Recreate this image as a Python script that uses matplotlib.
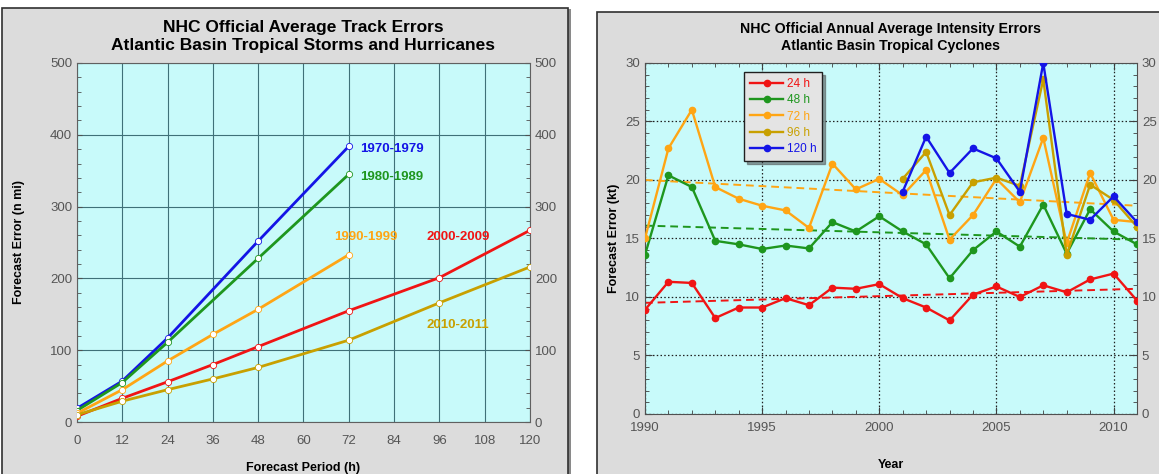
import matplotlib
matplotlib.use("Agg")
import matplotlib.pyplot as plt
from matplotlib.patches import Rectangle
from matplotlib.ticker import MultipleLocator

plt.rcParams['font.family'] = ['Liberation Sans', 'DejaVu Sans']

# ---- left chart data: track errors (n mi) by forecast period ----
periods_70s = [0, 12, 24, 48, 72]
err_70s = [19, 57, 117, 252, 384]
periods_80s = [0, 12, 24, 48, 72]
err_80s = [16, 55, 111, 228, 345]
periods_90s = [0, 12, 24, 36, 48, 72]
err_90s = [12, 45, 85, 122, 157, 233]
periods_00s = [0, 12, 24, 36, 48, 72, 96, 120]
err_00s = [8, 33, 56, 80, 105, 155, 201, 267]
periods_10s = [0, 12, 24, 36, 48, 72, 96, 120]
err_10s = [10, 29, 45, 60, 76, 114, 166, 216]
decade_labels = ['1970-1979', '1980-1989', '1990-1999', '2000-2009', '2010-2011']

# ---- right chart data: annual intensity errors (kt) ----
years = list(range(1990, 2012))
int_24 = [8.9, 11.3, 11.2, 8.2, 9.1, 9.1, 9.9, 9.3, 10.8, 10.7, 11.1,
          9.9, 9.1, 8.0, 10.2, 10.9, 10.0, 11.0, 10.4, 11.5, 12.0, 9.7]
int_48 = [13.6, 20.4, 19.4, 14.8, 14.5, 14.1, 14.4, 14.15, 16.4, 15.6, 16.9,
          15.6, 14.5, 11.6, 14.0, 15.6, 14.3, 17.9, 13.7, 17.5, 15.6, 14.5]
int_72 = [15.0, 22.7, 26.0, 19.4, 18.4, 17.8, 17.4, 15.9, 21.4, 19.2, 20.1,
          18.7, 20.85, 14.9, 17.0, 20.1, 18.1, 23.6, 14.6, 20.6, 16.6, 16.4]
years_late = list(range(2001, 2012))
int_96 = [20.1, 22.4, 17.0, 19.8, 20.2, 19.5, 28.6, 13.6, 19.6, 18.3, 16.0]
int_120 = [19.0, 23.7, 20.6, 22.7, 21.85, 19.0, 30.0, 17.1, 16.6, 18.6, 16.4]
trend_years = [1990, 2011]
trend_24 = [9.5, 10.7]
trend_48 = [16.1, 14.9]
trend_72 = [20.0, 17.8]

BLUE = '#1414e6'
GREEN = '#1e961e'
ORANGE = '#ffa514'
RED = '#f01414'
GOLD = '#c8a000'
TICKC = '#555555'

fig = plt.figure(figsize=(11.59, 4.74), dpi=100)
fig.patch.set_facecolor('white')

# panel backgrounds
fig.add_artist(Rectangle((0.004, -0.01), 0.489, 0.99, transform=fig.transFigure,
                         facecolor='#8a8a8a', edgecolor='none', zorder=0))
fig.add_artist(Rectangle((0.002, -0.01), 0.488, 0.993, transform=fig.transFigure,
                         facecolor='#dcdcdc', edgecolor='#303030', lw=1.2, zorder=0))
fig.add_artist(Rectangle((0.515, -0.01), 0.49, 0.985, transform=fig.transFigure,
                         facecolor='#dcdcdc', edgecolor='#303030', lw=1.2, zorder=0))

# ================= left chart =================
ax1 = fig.add_axes([0.0664, 0.1097, 0.3909, 0.7574])
ax1.set_facecolor('#c8fafa')
series = [(periods_70s, err_70s, BLUE), (periods_80s, err_80s, GREEN),
          (periods_90s, err_90s, ORANGE), (periods_00s, err_00s, RED),
          (periods_10s, err_10s, GOLD)]
for xs, ys, c in series:
    ax1.plot(xs, ys, color=c, lw=2.0, marker='o', ms=4.5, mfc='white',
             mec=c, mew=0.6, zorder=3)
ax1.set_xlim(0, 120)
ax1.set_ylim(0, 500)
ax1.xaxis.set_major_locator(MultipleLocator(12))
ax1.yaxis.set_major_locator(MultipleLocator(100))
ax1.yaxis.set_minor_locator(MultipleLocator(20))
ax1.grid(True, which='major', color='#3f7078', lw=0.8)
ax1.tick_params(axis='both', which='both', colors='#505050', labelcolor=TICKC,
                labelsize=9.5, direction='in', right=True, labelright=True)
ax1.tick_params(axis='y', which='minor', length=3)
ax1.tick_params(axis='x', length=0, pad=9)
for s in ax1.spines.values():
    s.set_color('#606060')
ax1.set_xlabel('Forecast Period (h)', fontsize=9, fontweight='bold', labelpad=11)
ax1.set_ylabel('Forecast Error (n mi)', fontsize=9, fontweight='bold', labelpad=18)
ax1.set_title('NHC Official Average Track Errors\nAtlantic Basin Tropical Storms and Hurricanes',
              fontsize=12.5, fontweight='bold', linespacing=1.3, pad=9)
txt = dict(fontsize=9.5, fontweight='bold')
ax1.text(75, 380, decade_labels[0], color=BLUE, va='center', **txt)
ax1.text(75, 341, decade_labels[1], color=GREEN, va='center', **txt)
ax1.text(68, 258, decade_labels[2], color=ORANGE, va='center', **txt)
ax1.text(92.5, 258, decade_labels[3], color=RED, va='center', **txt)
ax1.text(92.5, 135, decade_labels[4], color=GOLD, va='center', **txt)

# ================= right chart =================
ax2 = fig.add_axes([0.5565, 0.1266, 0.4245, 0.7405])
ax2.set_facecolor('#c8fafa')
h24, = ax2.plot(years, int_24, color=RED, lw=1.7, marker='o', ms=4.5, label='24 h', zorder=3)
h48, = ax2.plot(years, int_48, color=GREEN, lw=1.7, marker='o', ms=4.5, label='48 h', zorder=3)
h72, = ax2.plot(years, int_72, color=ORANGE, lw=1.7, marker='o', ms=4.5, label='72 h', zorder=3)
h96, = ax2.plot(years_late, int_96, color=GOLD, lw=1.7, marker='o', ms=4.5, label='96 h', zorder=3)
h120, = ax2.plot(years_late, int_120, color=BLUE, lw=1.7, marker='o', ms=4.5, label='120 h', zorder=4)
ax2.plot(trend_years, trend_24, color=RED, lw=1.4, ls=(0, (4, 2.5)), zorder=2)
ax2.plot(trend_years, trend_48, color=GREEN, lw=1.4, ls=(0, (4, 2.5)), zorder=2)
ax2.plot(trend_years, trend_72, color=ORANGE, lw=1.4, ls=(0, (4, 2.5)), zorder=2)
ax2.set_xlim(1990, 2011)
ax2.set_ylim(0, 30)
ax2.xaxis.set_major_locator(MultipleLocator(5))
ax2.xaxis.set_minor_locator(MultipleLocator(1))
ax2.yaxis.set_major_locator(MultipleLocator(5))
ax2.yaxis.set_minor_locator(MultipleLocator(1))
ax2.grid(True, which='major', color='#202020', lw=0.9, ls=(0, (1.2, 1.8)))
ax2.tick_params(axis='both', which='both', direction='in', colors='#404040',
                labelcolor=TICKC, labelsize=9.5, top=True, right=True, labelright=True)
ax2.tick_params(which='major', length=5)
ax2.tick_params(which='minor', length=3)
ax2.tick_params(axis='x', pad=6)
for s in ax2.spines.values():
    s.set_color('#505050')
ax2.set_xlabel('Year', fontsize=9, fontweight='bold', labelpad=18)
ax2.set_ylabel('Forecast Error (kt)', fontsize=9, fontweight='bold', labelpad=4)
ax2.set_title('NHC Official Annual Average Intensity Errors\nAtlantic Basin Tropical Cyclones',
              fontsize=10.2, fontweight='bold', linespacing=1.35, pad=9)
leg = ax2.legend(handles=[h24, h48, h72, h96, h120], loc='upper left',
                 bbox_to_anchor=(0.19, 0.99), fontsize=8.5, frameon=True,
                 fancybox=False, shadow=True, handlelength=2.8, handletextpad=0.3,
                 labelspacing=0.35, borderpad=0.5)
leg.get_frame().set_facecolor('#e4e4e4')
leg.get_frame().set_edgecolor('#202020')
leg.get_frame().set_alpha(1)
for t, h in zip(leg.get_texts(), [h24, h48, h72, h96, h120]):
    t.set_color(h.get_color())

fig.savefig('out.png', dpi=100)
